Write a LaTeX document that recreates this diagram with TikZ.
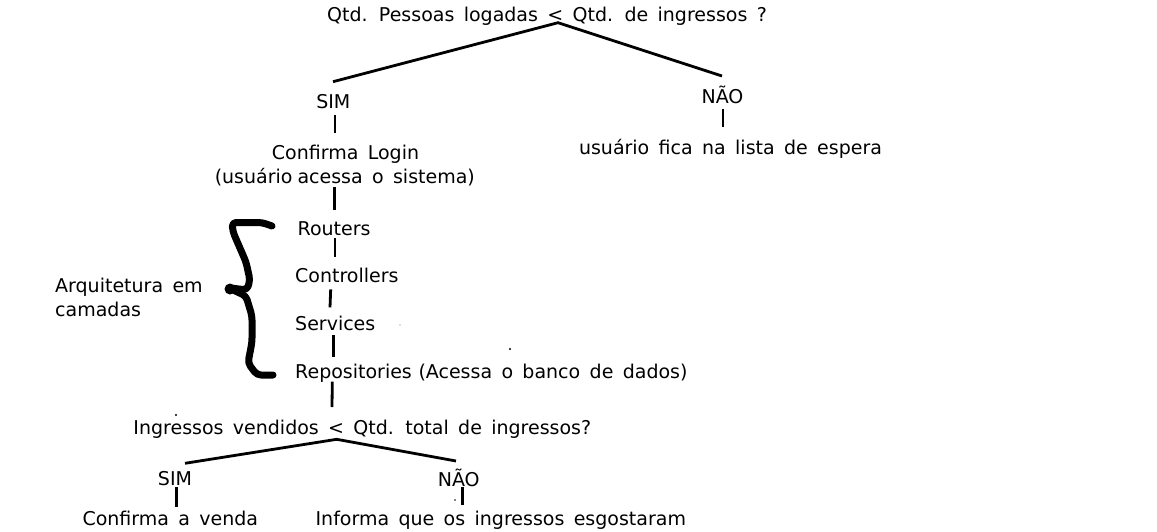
\documentclass[tikz,border=0pt]{standalone}
\usepackage{fontspec}
\setmainfont{DejaVu Sans}[WordSpace=1.55]
\usetikzlibrary{calc}

\begin{document}
\begin{tikzpicture}[
    x=1pt, y=-1pt,
    txt/.style={inner sep=0pt, anchor=base, font=\fontsize{19}{23.5}\selectfont},
    layer/.style={txt, anchor=base west},
    link/.style={line width=2.8pt},
    bracehand/.style={line width=7pt, line cap=round, line join=round, rounded corners=4pt},
]
\useasboundingbox (0,0) rectangle (1157,531);

% First question
\node[txt] (q1) at (547,21.7) {Qtd. Pessoas logadas < Qtd. de ingressos ?};
\node[txt] (sim1) at (333.3,108.3) {SIM};
\node[txt] (nao1) at (722.5,103.5) {NÃO};
\node[txt] (espera) at (730.5,154) {usuário fica na lista de espera};
\node[txt] (login) at (345.5,159.3) {Confirma Login};
\node[txt] (login2) at (344.8,183.3) {(usuário\hspace{5pt}acessa o sistema)};

% Layers
\node[layer] (routers) at (297.5,235) {Routers};
\node[layer] (controllers) at (295,282.7) {Controllers};
\node[layer] (services) at (295,330.7) {Services};
\node[layer] (repos) at (295,378.3) {Repositories};
\node[layer] (dados) at (418.3,378.3) {(Acessa o banco de dados)};
\node[txt, anchor=north west, align=left] (camadas) at (55,278.2) {Arquitetura em\\camadas};

% Second question
\node[txt] (q2) at (362.3,434) {Ingressos vendidos < Qtd. total de ingressos?};
\node[txt] (sim2) at (175,485) {SIM};
\node[txt] (nao2) at (458.7,486) {NÃO};
\node[txt] (venda) at (170.3,525) {Confirma a venda};
\node[txt] (informa) at (500.8,525) {Informa que os ingressos esgostaram};

% Tree lines
\coordinate (fork1) at ($(q1.base)+(11,1)$);
\coordinate (fork2) at ($(q2.base)+(-25.6,5.3)$);
\draw[link] ($(sim1.base)+(-0.3,-26.6)$) -- (fork1) -- ($(nao1.base)+(-0.5,-27.5)$);
\draw[link] ($(sim1.base)+(1.7,6.7)$) -- ($(login.base)+(-10.5,-26.3)$);
\draw[link] ($(nao1.base)+(0.5,5.5)$) -- ($(espera.base)+(-7.5,-27)$);
\draw[link] ($(login2.base)+(-10.5,3.4)$) -- ($(routers.base west)+(36.8,-25)$);
\draw[link] ($(routers.base west)+(37.5,3.3)$) -- ($(controllers.base west)+(40,-25.4)$);
\draw[link] ($(controllers.base west)+(35.7,6.6)$) -- ($(services.base west)+(35,-23.4)$);
\draw[link] ($(services.base west)+(38.3,4.3)$) -- ($(repos.base west)+(38.3,-21.6)$);
\draw[link] ($(repos.base west)+(37.3,3.4)$) -- ($(q2.base)+(-30.3,-27)$);
\draw[link] ($(sim2.base)+(10,-21.7)$) -- (fork2) -- ($(nao2.base)+(-2.7,-25)$);
\draw[link] ($(sim2.base)+(1.7,2.3)$) -- ($(venda.base)+(6.4,-18.3)$);
\draw[link] ($(nao2.base)+(4,1.3)$) -- ($(informa.base)+(-38.1,-20)$);

% Hand drawn brace
\draw[bracehand] (272,226) -- (262,222.5) -- (232,222.5) -- (233,232) -- (246,262) -- (250,280) -- (247,290) -- (231,288);
\fill (230,289) circle (5.5);
\draw[bracehand] (231,289) -- (246,296) -- (252,316) -- (252,342) -- (248,363) -- (257,375) -- (273,375);

% stray marks
\fill (510,349) circle (1.2);
\fill (176,415) circle (1.2);
\fill (455,500) circle (0.8);
\fill[black!25] (400,325) circle (0.9);
\end{tikzpicture}
\end{document}
